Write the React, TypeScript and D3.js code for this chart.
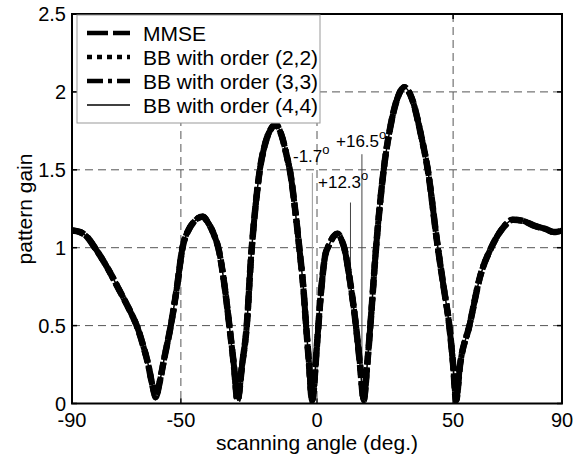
import React from "react";
import * as d3 from "d3";

const angles = [
  -90, -87, -84, -82, -79, -76, -73, -70, -68, -66, -64, -62, -60.5, -59.2, -58, -56, -53.7, -51.5, -49.4, -47,
  -45, -42, -40, -38, -36, -34, -32.2, -30.5, -29.2, -27.5, -25.8, -24.3, -22.5, -21, -19, -17, -15.2, -13, -11,
  -10, -8, -6.5, -5, -4, -3, -1.8, 0, 1.5, 3, 4.5, 6, 7.6, 9, 10, 12, 14.3, 15.8, 17.2, 18.4, 19.6, 21.7, 24.5,
  27, 29, 32.1, 35, 38, 40.7, 44.4, 46.5, 48.6, 50, 51.1, 52.5, 56, 60, 64, 68, 72, 76, 80, 84, 87, 90,
];
const gainMMSE = [
  1.11, 1.1, 1.06, 1.01, 0.93, 0.84, 0.74, 0.64, 0.57, 0.49, 0.38, 0.25, 0.12, 0.04, 0.12, 0.3, 0.5, 0.74, 1.0, 1.12,
  1.17, 1.2, 1.16, 1.09, 0.98, 0.76, 0.5, 0.24, 0.02, 0.25, 0.5, 0.92, 1.28, 1.5, 1.67, 1.76, 1.79, 1.72, 1.58,
  1.5, 1.24, 1.0, 0.74, 0.5, 0.27, 0.02, 0.38, 0.72, 0.95, 1.02, 1.07, 1.09, 1.05, 1.0, 0.8, 0.5, 0.25, 0.02, 0.24,
  0.5, 1.0, 1.5, 1.78, 1.93, 2.03, 1.95, 1.74, 1.5, 1.0, 0.75, 0.5, 0.25, 0.02, 0.24, 0.5, 0.82, 1.0, 1.12, 1.18,
  1.17, 1.14, 1.12, 1.1, 1.11,
];
const gainBB22 = gainMMSE;
const gainBB33 = gainMMSE;
const gainBB44 = gainMMSE;

const seriesNames = ["MMSE", "BB with order (2,2)", "BB with order (3,3)", "BB with order (4,4)"];
const xTicks = [-90, -50, 0, 50, 90];
const yTicks = [0, 0.5, 1, 1.5, 2, 2.5];
const xGrid = [-50, 0, 50];
const yGrid = [0.5, 1, 1.5, 2];
const markAngles = [-1.7, 12.3, 16.5];
const markTops = [1.48, 1.29, 1.6];
const markLabels = ["-1.7", "+12.3", "+16.5"];

const W = 584, H = 460;
const L = 72, R = 562, T = 14, B = 403.5;
const FONT = "'Liberation Sans', Arial, sans-serif";

function gainAt(a: number): number {
  const i = d3.bisectRight(angles, a);
  if (i <= 0) return gainMMSE[0];
  if (i >= angles.length) return gainMMSE[angles.length - 1];
  const t = (a - angles[i - 1]) / (angles[i] - angles[i - 1]);
  return gainMMSE[i - 1] + t * (gainMMSE[i] - gainMMSE[i - 1]);
}

export default function App() {
  const x = d3.scaleLinear().domain([-90, 90]).range([L, R]);
  const y = d3.scaleLinear().domain([0, 2.5]).range([B, T]);
  const mk = (g: number[]) =>
    d3.line<number>().x((_, i) => x(angles[i])).y((v) => y(v)).curve(d3.curveMonotoneX)(g) || "";

  const styles = [
    { w: 6.5, dash: "13 5" },
    { w: 6, dash: "4 3" },
    { w: 6, dash: "12 4 4 4" },
    { w: 1.5, dash: "" },
  ];
  const data = [gainMMSE, gainBB22, gainBB33, gainBB44];

  const labelPos = [
    { x: 293, y: 162 },
    { x: 318, y: 188 },
    { x: 336, y: 147 },
  ];
  const legRows = [33, 57, 81, 105];

  return (
    <svg width={W} height={H} style={{ position: "absolute", left: 0, top: 0, background: "#fff" }} fontFamily={FONT}>
      <rect x={0} y={0} width={W} height={H} fill="#fff" />
      {xGrid.map((v) => (
        <line key={"gx" + v} x1={x(v)} x2={x(v)} y1={T} y2={B} stroke="#555" strokeWidth={1} strokeDasharray="8 5" />
      ))}
      {yGrid.map((v) => (
        <line key={"gy" + v} x1={L} x2={R} y1={y(v)} y2={y(v)} stroke="#555" strokeWidth={1} strokeDasharray="8 5" />
      ))}
      {markAngles.map((a, i) => (
        <line key={"m" + i} x1={x(a)} x2={x(a)} y1={y(markTops[i])} y2={y(gainAt(a))}
          stroke={i === 0 ? "#999" : "#444"} strokeWidth={1} />
      ))}
      {data.map((g, i) => (
        <path key={"c" + i} d={mk(g)} fill="none" stroke="#000" strokeWidth={styles[i].w}
          strokeDasharray={styles[i].dash || undefined} strokeLinejoin="round" />
      ))}
      {markLabels.map((t, i) => (
        <text key={"ml" + i} x={labelPos[i].x} y={labelPos[i].y} fontSize={17} fill="#000">
          {t}
          <tspan fontSize={13} dy={-8}>o</tspan>
        </text>
      ))}
      <rect x={L} y={T} width={R - L} height={B - T} fill="none" stroke="#000" strokeWidth={2} />
      {xTicks.map((v) => (
        <g key={"xt" + v}>
          <line x1={x(v)} x2={x(v)} y1={B} y2={B - 5} stroke="#000" strokeWidth={1.5} />
          <line x1={x(v)} x2={x(v)} y1={T} y2={T + 5} stroke="#000" strokeWidth={1.5} />
          <text x={x(v)} y={B + 23} fontSize={20} textAnchor="middle">{v}</text>
        </g>
      ))}
      {yTicks.map((v) => (
        <g key={"yt" + v}>
          <line x1={L} x2={L + 5} y1={y(v)} y2={y(v)} stroke="#000" strokeWidth={1.5} />
          <line x1={R} x2={R - 5} y1={y(v)} y2={y(v)} stroke="#000" strokeWidth={1.5} />
          <text x={L - 6} y={y(v) + 7} fontSize={20} textAnchor="end">{v}</text>
        </g>
      ))}
      <text x={(L + R) / 2} y={450} fontSize={21} textAnchor="middle">scanning angle (deg.)</text>
      <text transform={`translate(32,209) rotate(-90)`} fontSize={21} textAnchor="middle">pattern gain</text>
      <rect x={77} y={15} width={243} height={108} fill="#fff" stroke="#999" strokeWidth={1} />
      {seriesNames.map((n, i) => (
        <g key={"lg" + i}>
          <line x1={87} x2={130} y1={legRows[i]} y2={legRows[i]} stroke="#000"
            strokeWidth={i === 3 ? 1.5 : 4.5}
            strokeDasharray={i === 0 ? "21 5" : i === 1 ? "5 5" : i === 2 ? "16 5 4 5" : undefined} />
          <text x={143} y={legRows[i] + 7.5} fontSize={21}>{n}</text>
        </g>
      ))}
    </svg>
  );
}
